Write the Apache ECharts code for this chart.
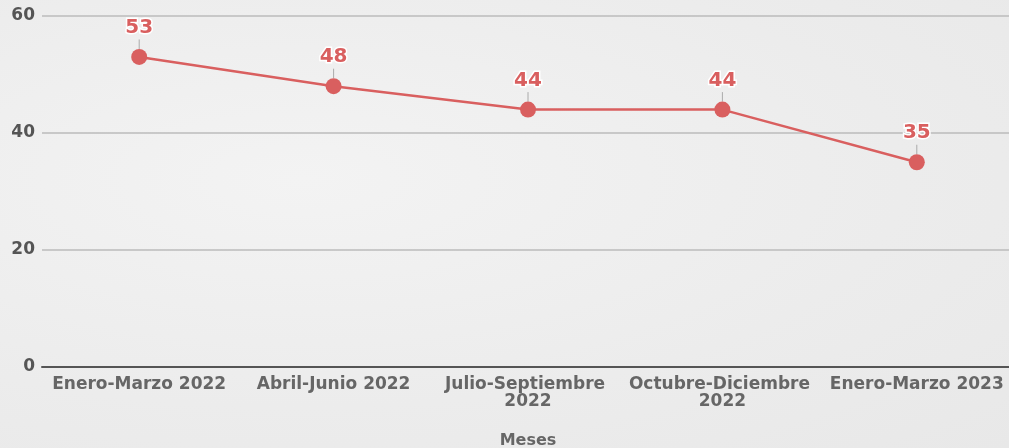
<!DOCTYPE html>
<html>
<head>
<meta charset="utf-8">
<script src="https://cdn.jsdelivr.net/npm/echarts@6/dist/echarts.min.js"></script>
<style>
  html, body { margin: 0; padding: 0; }
  #chart {
    width: 1009px; height: 448px;
    background: radial-gradient(ellipse at 30% 40%, #f3f3f3 0%, #ececec 60%, #e8e8e8 100%);
  }
</style>
</head>
<body>
<div id="chart"></div>
<script>
var meses = ['Enero-Marzo 2022', 'Abril-Junio 2022', 'Julio-Septiembre 2022', 'Octubre-Diciembre 2022', 'Enero-Marzo 2023'];
var valores = [53, 48, 44, 44, 35];
var yTicks = [0, 20, 40, 60];

var chart = echarts.init(document.getElementById('chart'));
var option = {
    animation: false,
    textStyle: { fontFamily: 'DejaVu Sans' },
    grid: { left: 42, right: -5, top: 16, bottom: 81, outerBoundsMode: 'none', containLabel: false },
    xAxis: {
        type: 'category',
        data: meses,
        name: 'Meses',
        nameLocation: 'middle',
        nameGap: 66,
        nameTextStyle: { color: '#666', fontWeight: 'bold', fontSize: 16 },
        axisLine: { lineStyle: { color: '#555', width: 2 } },
        axisTick: { show: false },
        axisLabel: {
            color: '#666', fontWeight: 'bold', fontSize: 17,
            width: 188, overflow: 'break', lineHeight: 17, margin: 9,
            interval: 0
        }
    },
    yAxis: {
        type: 'value',
        min: yTicks[0],
        max: yTicks[yTicks.length - 1],
        interval: 20,
        axisLine: { show: false },
        axisTick: { show: false },
        splitLine: { lineStyle: { color: '#bbb', width: 1.5 } },
        axisLabel: { color: '#555', fontWeight: 'bold', fontSize: 17, margin: 7 }
    },
    series: [{
        type: 'line',
        data: valores,
        symbol: 'circle',
        symbolSize: 16,
        itemStyle: { color: '#d95f5f' },
        lineStyle: { color: '#d95f5f', width: 2.5 },
        label: {
            show: true,
            position: 'top',
            distance: 4,
            color: '#d95f5f',
            fontWeight: 'bold',
            fontSize: 20,
            textBorderColor: '#fff',
            textBorderWidth: 3
        },
        labelLine: { show: true, lineStyle: { color: '#aaa', width: 1 } },
        labelLayout: { dy: -7 }
    }]
};
chart.setOption(option);
</script>
</body>
</html>
